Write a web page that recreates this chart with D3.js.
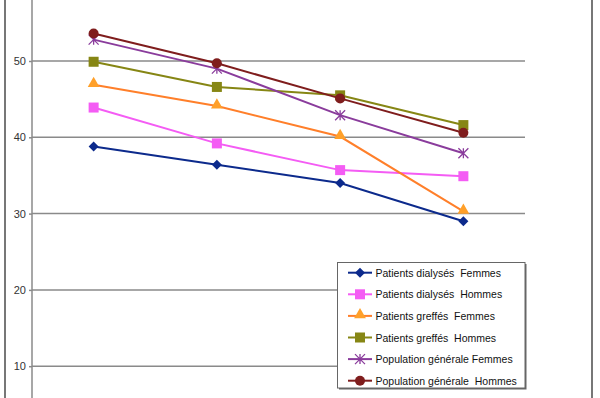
<!DOCTYPE html>
<html>
<head>
<meta charset="utf-8">
<script src="https://d3js.org/d3.v7.min.js"></script>
<style>
  body { margin: 0; background: white; }
  text { font-family: "Liberation Sans", Arial, sans-serif; }
</style>
</head>
<body>
<svg id="chart" width="600" height="398"></svg>
<script>
// categories (x axis is not visible in the crop)
var categories = ["p1", "p2", "p3", "p4"];
var yTicks = [10, 20, 30, 40, 50];

var seriesNames = [
  "Patients dialysés  Femmes",
  "Patients dialysés  Hommes",
  "Patients greffés  Femmes",
  "Patients greffés  Hommes",
  "Population générale Femmes",
  "Population générale  Hommes"
];
var dialyseF = [38.8, 36.4, 34.0, 29.0];
var dialyseH = [43.9, 39.2, 35.7, 34.9];
var greffeF  = [46.9, 44.1, 40.1, 30.3];
var greffeH  = [49.9, 46.6, 45.5, 41.6];
var popF     = [52.8, 49.0, 42.9, 37.9];
var popH     = [53.6, 49.7, 45.1, 40.6];

var seriesValues = [dialyseF, dialyseH, greffeF, greffeH, popF, popH];
var lineColors = ["#0c2a8c", "#f45cf4", "#ff7f2a", "#868614", "#8a3c9c", "#7f1d1d"];
var markerColors = ["#0c2a8c", "#f45cf4", "#ffa02a", "#868614", "#8a3c9c", "#7f1d1d"];
var markerTypes = ["diamond", "square", "triangle", "square", "asterisk", "circle"];

var svg = d3.select("#chart");

var x = d3.scaleBand().domain(categories).range([32, 525]);
var y = d3.scaleLinear().domain([10, 50]).range([366.2, 61]);

// outer frame sides
svg.append("line").attr("x1", 5).attr("x2", 5).attr("y1", 0).attr("y2", 398)
  .attr("stroke", "#777").attr("stroke-width", 2);
svg.append("line").attr("x1", 592).attr("x2", 592).attr("y1", 0).attr("y2", 398)
  .attr("stroke", "#777").attr("stroke-width", 2);

// gridlines
svg.append("g").selectAll("line").data(yTicks).enter().append("line")
  .attr("x1", 32).attr("x2", 525)
  .attr("y1", function(d) { return y(d); })
  .attr("y2", function(d) { return y(d); })
  .attr("stroke", "#8a8a8a").attr("stroke-width", 1.5);

// y axis
var yAxis = d3.axisLeft(y).tickValues(yTicks).tickSize(3).tickPadding(3);
var ga = svg.append("g").attr("transform", "translate(32,0)").call(yAxis);
ga.select(".domain").remove();
ga.selectAll(".tick line").attr("stroke", "#8a8a8a").attr("stroke-width", 1.5);
ga.selectAll(".tick text").attr("font-size", 11).attr("fill", "#333")
  .attr("font-family", "Liberation Sans, Arial, sans-serif");
svg.append("line").attr("x1", 32).attr("x2", 32).attr("y1", 0).attr("y2", 398)
  .attr("stroke", "#8a8a8a").attr("stroke-width", 1.5);

function drawMarker(g, type, color, cx, cy) {
  if (type === "diamond") {
    var r = 5;
    g.append("path")
      .attr("d", "M" + cx + "," + (cy - r) + "L" + (cx + r) + "," + cy +
                 "L" + cx + "," + (cy + r) + "L" + (cx - r) + "," + cy + "Z")
      .attr("fill", color);
  } else if (type === "square") {
    g.append("rect").attr("x", cx - 5).attr("y", cy - 5).attr("width", 10).attr("height", 10)
      .attr("fill", color);
  } else if (type === "triangle") {
    g.append("path").attr("d", d3.symbol(d3.symbolTriangle, 60)())
      .attr("transform", "translate(" + cx + "," + (cy - 1) + ")").attr("fill", color);
  } else if (type === "circle") {
    g.append("circle").attr("cx", cx).attr("cy", cy).attr("r", 5).attr("fill", color);
  } else if (type === "asterisk") {
    var r = 5;
    g.append("path")
      .attr("d", "M" + (cx - r) + "," + (cy - r) + "L" + (cx + r) + "," + (cy + r) +
                 "M" + (cx - r) + "," + (cy + r) + "L" + (cx + r) + "," + (cy - r) +
                 "M" + cx + "," + (cy - r) + "L" + cx + "," + (cy + r))
      .attr("stroke", color).attr("stroke-width", 1.3).attr("fill", "none");
  }
}

var line = d3.line()
  .x(function(d, i) { return x(categories[i]) + x.bandwidth() / 2; })
  .y(function(d) { return y(d); });

seriesValues.forEach(function(vals, s) {
  var g = svg.append("g");
  g.append("path").datum(vals).attr("d", line)
    .attr("fill", "none").attr("stroke", lineColors[s]).attr("stroke-width", 2);
  vals.forEach(function(v, i) {
    drawMarker(g, markerTypes[s], markerColors[s], x(categories[i]) + x.bandwidth() / 2, y(v));
  });
});

// legend
var lg = svg.append("g");
lg.append("rect").attr("x", 339).attr("y", 264).attr("width", 187.5).attr("height", 125.5)
  .attr("fill", "#666");
lg.append("rect").attr("x", 337.5).attr("y", 262.5).attr("width", 187.5).attr("height", 125.5)
  .attr("fill", "white").attr("stroke", "#666").attr("stroke-width", 1);

seriesNames.forEach(function(name, s) {
  var ry = 272.7 + s * 21.6;
  lg.append("line").attr("x1", 348).attr("x2", 372).attr("y1", ry).attr("y2", ry)
    .attr("stroke", lineColors[s]).attr("stroke-width", 2);
  drawMarker(lg, markerTypes[s], markerColors[s], 360, ry);
  lg.append("text").attr("x", 375.5).attr("y", ry + 4).attr("font-size", 10.5)
    .style("white-space", "pre")
    .attr("fill", "#111").text(name);
});
</script>
</body>
</html>
